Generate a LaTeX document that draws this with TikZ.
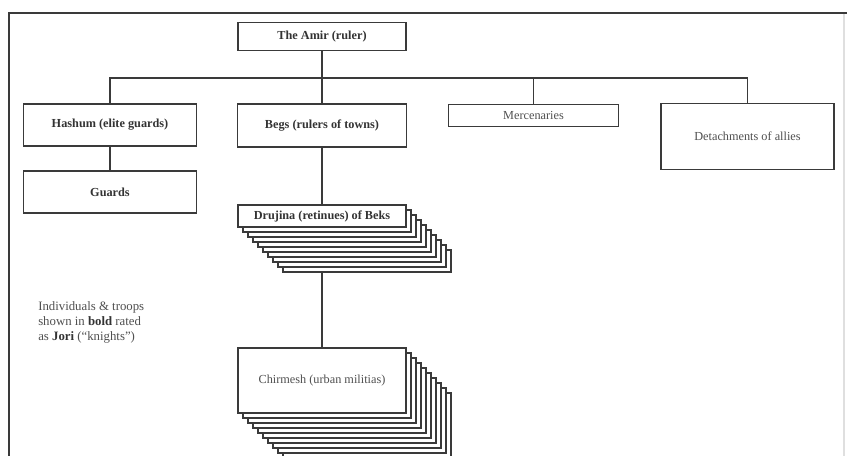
\documentclass[tikz,border=0pt]{standalone}
\usepackage{fontspec}
\setmainfont{Liberation Serif}
\definecolor{linec}{HTML}{3A3A3A}
\definecolor{txtb}{HTML}{333333}
\definecolor{txtr}{HTML}{505050}
\begin{document}
\begin{tikzpicture}[x=0.75pt,y=-0.75pt,
  box/.style={draw=linec,line width=1.1pt,fill=white,inner sep=0pt,
    minimum width=#1*0.75pt},
  box/.default=168,
  rear/.style={line width=0.85pt},
  bt/.style={font=\fontsize{9.2}{10}\selectfont\bfseries,text=txtb},
  rt/.style={font=\fontsize{9.2}{10}\selectfont,text=txtr},
  conn/.style={draw=linec,line width=1.1pt}]
\useasboundingbox (0,0) rectangle (847,455);
\fill[white] (0,0) rectangle (847,455);
% frame
\draw[linec,line width=1.4pt] (9,456) -- (9,13) -- (848,13);
\draw[gray!25,line width=0.8pt] (844,14) -- (844,456);

% top level
\node[box=168,bt,minimum height=28*0.75pt] (amir) at (322,36.5) {The Amir (ruler)};
\node[box=173,bt,minimum height=42*0.75pt] (hashum) at (110,125) {Hashum (elite guards)};
\node[box=169,bt,minimum height=43*0.75pt] (begs) at (322,125.5) {Begs (rulers of towns)};
\node[box=170,rt,minimum height=22*0.75pt,anchor=north] (merc) at (533.5,104) {\raisebox{1pt}{Mercenaries}};
\node[box=173,rt,minimum height=66*0.75pt] (detach) at (747.5,136.5) {Detachments of allies};
\node[box=173,bt,minimum height=42*0.75pt] (guards) at (110,192) {Guards};

% Drujina stack
\foreach \i in {9,...,1}{
  \node[box=168,rear,minimum height=22*0.75pt] (dr\i) at (322+5*\i,216+5*\i) {};
}
\node[box=168,bt,minimum height=22*0.75pt] (drujina) at (322,216) {Drujina (retinues) of Beks};

% Chirmesh stack
\foreach \i in {9,...,1}{
  \node[box=168,rear,minimum height=65*0.75pt] (ch\i) at (322+5*\i,380.5+5*\i) {};
}
\node[box=168,rt,minimum height=65*0.75pt] (chirmesh) at (322,380.5) {Chirmesh (urban militias)};

% connectors
\coordinate (bus) at (322,78);
\draw[conn] (amir.south) -- (bus);
\draw[conn] (hashum.north) -- (hashum.north |- bus) -| (detach.north);
\draw[conn] (begs.north) -- (begs.north |- bus);
\draw[conn] (merc.north) -- (merc.north |- bus);
\draw[conn] (hashum.south) -- (guards.north);
\draw[conn] (begs.south) -- (drujina.north);
\draw[conn] (dr9.south -| drujina.south) -- (chirmesh.north);

% note
\node[anchor=west,align=left,inner sep=0pt,text=txtr,
  font=\fontsize{9.6}{11.2}\selectfont] (note) at (38,322)
  {Individuals \& troops\\shown in \textbf{\color{txtb}bold} rated\\as \textbf{\color{txtb}Jori} (``knights'')};
\end{tikzpicture}
\end{document}
